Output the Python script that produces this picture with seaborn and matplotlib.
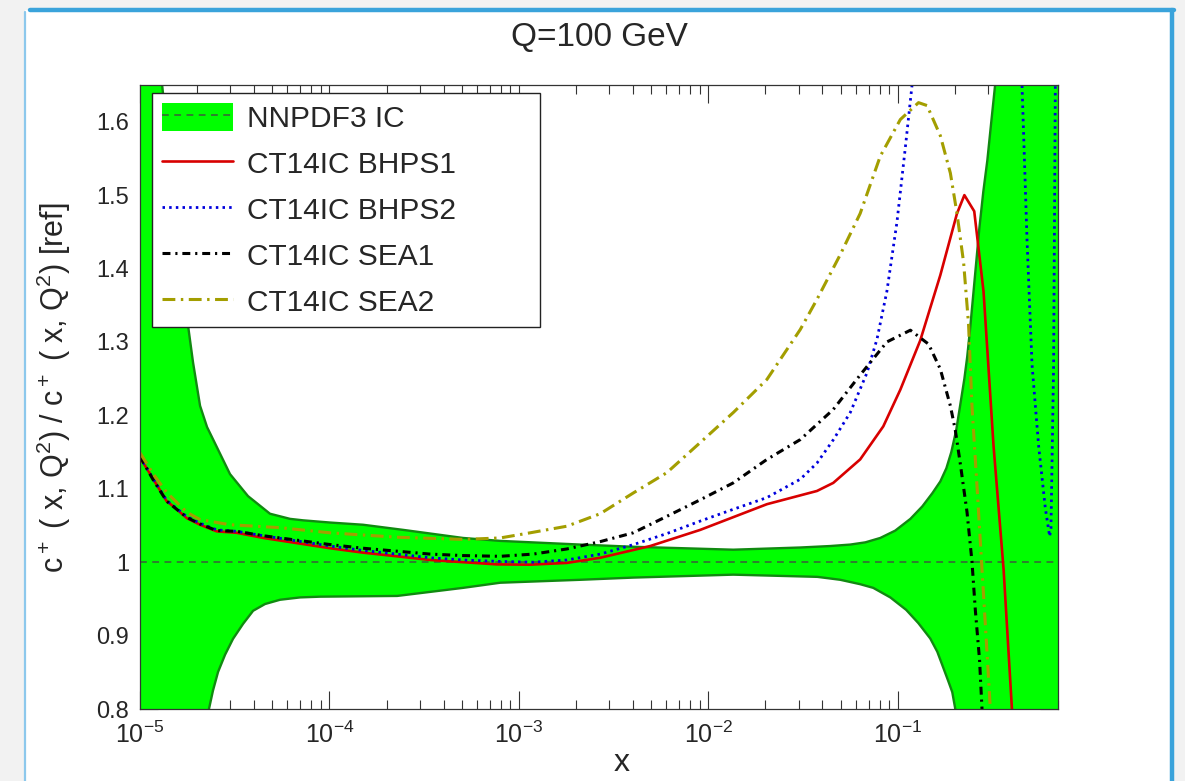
import numpy as np
import matplotlib
matplotlib.use("Agg")
import matplotlib.pyplot as plt
import seaborn as sns
from matplotlib.patches import Patch, Rectangle
from matplotlib.lines import Line2D
from matplotlib.ticker import LogLocator, FuncFormatter, FixedLocator, NullLocator

sns.set_style("ticks")
plt.rcParams['font.family'] = ['Liberation Sans', 'DejaVu Sans']
plt.rcParams['mathtext.fontset'] = 'custom'
plt.rcParams['mathtext.rm'] = 'Liberation Sans'
plt.rcParams['mathtext.it'] = 'Liberation Sans:italic'
plt.rcParams['mathtext.bf'] = 'Liberation Sans:bold'

# ---------------- data (x given as log10(x)) ----------------
band_lx_upper = [-5.0, -4.884, -4.815, -4.752, -4.720, -4.683, -4.646, -4.593, -4.525, -4.430,
                 -4.314, -4.208, -4.139, -3.997, -3.823, -3.611, -3.295, -3.099, -2.677, -2.397,
                 -1.869, -1.515, -1.357, -1.251, -1.172, -1.093, -1.014, -0.934, -0.871, -0.818,
                 -0.776, -0.744, -0.718, -0.692, -0.671, -0.649, -0.634, -0.618, -0.602, -0.586,
                 -0.570, -0.549, -0.528, -0.507, -0.486, -0.45, -0.153]
band_upper = [1.93, 1.652, 1.48, 1.333, 1.272, 1.213, 1.184, 1.156, 1.120, 1.090,
              1.066, 1.059, 1.057, 1.054, 1.051, 1.044, 1.033, 1.029, 1.024, 1.021,
              1.017, 1.020, 1.022, 1.024, 1.027, 1.033, 1.043, 1.059, 1.076, 1.094,
              1.110, 1.128, 1.150, 1.180, 1.214, 1.250, 1.280, 1.320, 1.365, 1.410,
              1.455, 1.505, 1.547, 1.600, 1.652, 1.75, 2.3]
band_lx_lower = [-5.0, -4.683, -4.636, -4.615, -4.588, -4.551, -4.509, -4.456, -4.403, -4.340,
                 -4.261, -4.155, -4.050, -3.643, -3.295, -3.099, -2.677, -2.397, -1.869, -1.425,
                 -1.304, -1.199, -1.130, -1.040, -0.956, -0.892, -0.829, -0.792, -0.760, -0.734,
                 -0.713, -0.697, -0.60, -0.153]
band_lower = [0.55, 0.75, 0.800, 0.825, 0.8505, 0.874, 0.8956, 0.916, 0.9338, 0.943,
              0.9488, 0.952, 0.953, 0.954, 0.965, 0.972, 0.976, 0.979, 0.983, 0.980,
              0.976, 0.970, 0.965, 0.952, 0.935, 0.917, 0.896, 0.878, 0.856, 0.838,
              0.823, 0.800, 0.6, 0.3]
band_central = 1.0

bhps1_lx = [-5.0, -4.930, -4.859, -4.824, -4.753, -4.683, -4.595, -4.489, -4.349, -4.173,
            -3.997, -3.823, -3.645, -3.469, -3.295, -3.117, -2.941, -2.747, -2.571, -2.307,
            -2.043, -1.691, -1.427, -1.341, -1.199, -1.077, -0.987, -0.882, -0.776, -0.688,
            -0.649, -0.597, -0.548, -0.495, -0.442, -0.398, -0.354]
bhps1 = [1.143, 1.113, 1.083, 1.076, 1.060, 1.051, 1.042, 1.040, 1.033, 1.026,
         1.019, 1.013, 1.008, 1.003, 1.000, 0.997, 0.9966, 0.999, 1.006, 1.022,
         1.044, 1.079, 1.097, 1.108, 1.140, 1.185, 1.235, 1.302, 1.391, 1.475,
         1.500, 1.478, 1.369, 1.158, 0.99, 0.80, 0.6]

bhps2_lx = [-5.0, -4.930, -4.859, -4.753, -4.683, -4.595, -4.489, -4.349, -4.173, -3.997,
            -3.823, -3.645, -3.469, -3.295, -3.099, -2.925, -2.747, -2.571, -2.395, -2.219,
            -2.043, -1.869, -1.691, -1.515, -1.427, -1.340, -1.251, -1.163, -1.110, -1.058,
            -1.005, -0.961, -0.926, -0.829, -0.618, -0.433, -0.345, -0.318, -0.292, -0.257,
            -0.222, -0.199, -0.192, -0.178, -0.169, -0.153]
bhps2 = [1.144, 1.113, 1.084, 1.062, 1.053, 1.044, 1.042, 1.036, 1.029, 1.022,
         1.016, 1.011, 1.006, 1.003, 1.001, 1.000, 1.003, 1.011, 1.024, 1.039,
         1.056, 1.072, 1.088, 1.113, 1.135, 1.167, 1.204, 1.258, 1.304, 1.369,
         1.463, 1.564, 1.648, 1.95, 2.3, 2.0, 1.652, 1.436, 1.269, 1.158,
         1.074, 1.035, 1.046, 1.269, 1.652, 2.2]

sea1_lx = [-5.0, -4.930, -4.859, -4.753, -4.683, -4.595, -4.489, -4.349, -4.173, -3.997,
           -3.823, -3.645, -3.469, -3.295, -3.099, -2.925, -2.747, -2.571, -2.397, -2.219,
           -2.043, -1.869, -1.691, -1.515, -1.341, -1.199, -1.058, -0.934, -0.838, -0.776,
           -0.723, -0.697, -0.671, -0.635, -0.609, -0.591, -0.569, -0.556, -0.512]
sea1 = [1.144, 1.112, 1.083, 1.061, 1.052, 1.043, 1.042, 1.036, 1.030, 1.024,
        1.019, 1.015, 1.011, 1.009, 1.008, 1.011, 1.018, 1.028, 1.040, 1.0625,
        1.085, 1.108, 1.14, 1.167, 1.208, 1.255, 1.30, 1.316, 1.297, 1.263,
        1.213, 1.18, 1.135, 1.068, 1.001, 0.934, 0.867, 0.80, 0.6]

sea2_lx = [-5.0, -4.930, -4.859, -4.753, -4.683, -4.525, -4.261, -3.997, -3.645, -3.293,
           -3.099, -2.941, -2.747, -2.571, -2.395, -2.219, -2.043, -1.868, -1.691, -1.515,
           -1.427, -1.304, -1.199, -1.093, -0.987, -0.891, -0.846, -0.776, -0.723, -0.688,
           -0.653, -0.627, -0.609, -0.582, -0.556, -0.530, -0.512, -0.486]
sea2 = [1.149, 1.12, 1.095, 1.068, 1.058, 1.051, 1.047, 1.040, 1.034, 1.031,
        1.033, 1.040, 1.049, 1.066, 1.0945, 1.122, 1.163, 1.204, 1.249, 1.317,
        1.358, 1.419, 1.475, 1.553, 1.603, 1.626, 1.622, 1.581, 1.53, 1.475,
        1.408, 1.324, 1.213, 1.102, 0.99, 0.879, 0.80, 0.6]

labels = ["NNPDF3 IC", "CT14IC BHPS1", "CT14IC BHPS2", "CT14IC SEA1", "CT14IC SEA2"]
y_ticks = [0.8, 0.9, 1.0, 1.1, 1.2, 1.3, 1.4, 1.5, 1.6]
x_range = (1e-5, 0.7)
y_range = (0.8, 1.65)

# ---------------- figure ----------------
W, H = 1185, 781
fig = plt.figure(figsize=(W / 100, H / 100), dpi=100)
fig.patch.set_facecolor('#f2f2f2')
fig.patches.append(Rectangle((25 / W, -0.02), (1172 - 25) / W, 1.02 - 10 / H,
                             transform=fig.transFigure, facecolor='white',
                             edgecolor='none', zorder=-10))
fig.add_artist(Line2D([30 / W, 1174 / W], [1 - 10 / H, 1 - 10 / H], transform=fig.transFigure,
                      color='#3aa3db', lw=3.2, zorder=-5))
fig.add_artist(Line2D([1172 / W, 1172 / W], [1 - 10 / H, 0], transform=fig.transFigure,
                      color='#3aa3db', lw=3.2, zorder=-5))
fig.add_artist(Line2D([25 / W, 25 / W], [1 - 12 / H, 0], transform=fig.transFigure,
                      color='#8cc8ec', lw=1.6, zorder=-5))

ax = fig.add_axes([140 / W, 1 - 709 / H, 918 / W, 624 / H])
ax.set_facecolor('white')

green_face = '#00ff00'
green_edge = '#118a11'

ux = np.power(10.0, band_lx_upper)
lx = np.power(10.0, band_lx_lower)
ax.fill(np.concatenate([ux, lx[::-1]]), np.concatenate([band_upper, band_lower[::-1]]),
        facecolor=green_face, edgecolor='none', zorder=1)
ax.plot(ux, band_upper, color=green_edge, lw=1.7, zorder=1.5, solid_joinstyle='round')
ax.plot(lx, band_lower, color=green_edge, lw=1.7, zorder=1.5, solid_joinstyle='round')
ax.axhline(band_central, color='#2f7f2f', lw=1.4, linestyle=(0, (3.5, 2.8)), zorder=1.8)

red_c = '#d80000'
blue_c = '#0000dd'
black_c = '#000000'
olive_c = '#a39e00'

sns.lineplot(x=np.power(10.0, bhps1_lx), y=bhps1, ax=ax, color=red_c, lw=1.9,
             linestyle='-', sort=False, estimator=None, zorder=3)
sns.lineplot(x=np.power(10.0, bhps2_lx), y=bhps2, ax=ax, color=blue_c, lw=2.0,
             linestyle=(0, (0.9, 1.5)), sort=False, estimator=None, zorder=3)
sns.lineplot(x=np.power(10.0, sea1_lx), y=sea1, ax=ax, color=black_c, lw=2.2,
             linestyle=(0, (2.6, 1.6, 0.7, 1.6)), sort=False, estimator=None, zorder=3)
sns.lineplot(x=np.power(10.0, sea2_lx), y=sea2, ax=ax, color=olive_c, lw=2.2,
             linestyle=(0, (4.2, 1.8, 0.8, 1.8)), sort=False, estimator=None, zorder=3)

ax.set_xscale('log')
ax.set_xlim(*x_range)
ax.set_ylim(*y_range)
ax.set_axisbelow(True)

ax.xaxis.set_major_locator(LogLocator(base=10, numticks=10))
ax.xaxis.set_minor_locator(LogLocator(base=10, subs=np.arange(2, 10), numticks=100))
ax.yaxis.set_major_locator(FixedLocator(y_ticks))
ax.yaxis.set_minor_locator(NullLocator())
ax.yaxis.set_major_formatter(FuncFormatter(lambda v, p: '%g' % v))

ax.tick_params(axis='both', which='major', direction='in', length=13, width=0.8,
               top=True, right=True, labelsize=17, color='#333333')
ax.tick_params(axis='x', which='minor', direction='in', length=6.5, width=0.8,
               top=True, bottom=True, color='#333333')
ax.tick_params(axis='x', which='major', pad=9, labelsize=18)
ax.tick_params(axis='y', which='major', pad=8)
for s in ax.spines.values():
    s.set_linewidth(0.9)
    s.set_color('#333333')
    s.set_zorder(5)

ax.set_xlabel('x', fontsize=23)
ax.xaxis.set_label_coords((622 - 140) / 918, -0.063)
ax.set_ylabel(r'c$^+$ ( x, Q$^2$) / c$^+$ ( x, Q$^2$) [ref]', fontsize=22)
ax.yaxis.set_label_coords((73 - 140) / 918, 0.515)

fig.text(599 / W, 1 - 38 / H, 'Q=100 GeV', ha='center', va='center', fontsize=24)

# legend
lines = ax.get_lines()
curve_lines = lines[-4:]
band_handle = (Patch(facecolor=green_face, edgecolor='none'),
               Line2D([], [], color='#2f7f2f', lw=1.4, linestyle=(0, (3.5, 2.8))))
leg = ax.legend([band_handle] + list(curve_lines), labels,
                loc='upper left', bbox_to_anchor=((152 - 140) / 918, 1 - 8 / 624 - 0.01,
                                                  (540 - 152) / 918, 0.01),
                mode='expand', fontsize=21.5, frameon=True, fancybox=False,
                edgecolor='#222222', framealpha=1, handlelength=2.4, handleheight=1.1,
                handletextpad=0.45, labelspacing=0.52, borderaxespad=0, borderpad=0.32)
leg.get_frame().set_linewidth(1.0)
leg.set_zorder(10)

fig.savefig('out.png', dpi=100, facecolor=fig.get_facecolor())
